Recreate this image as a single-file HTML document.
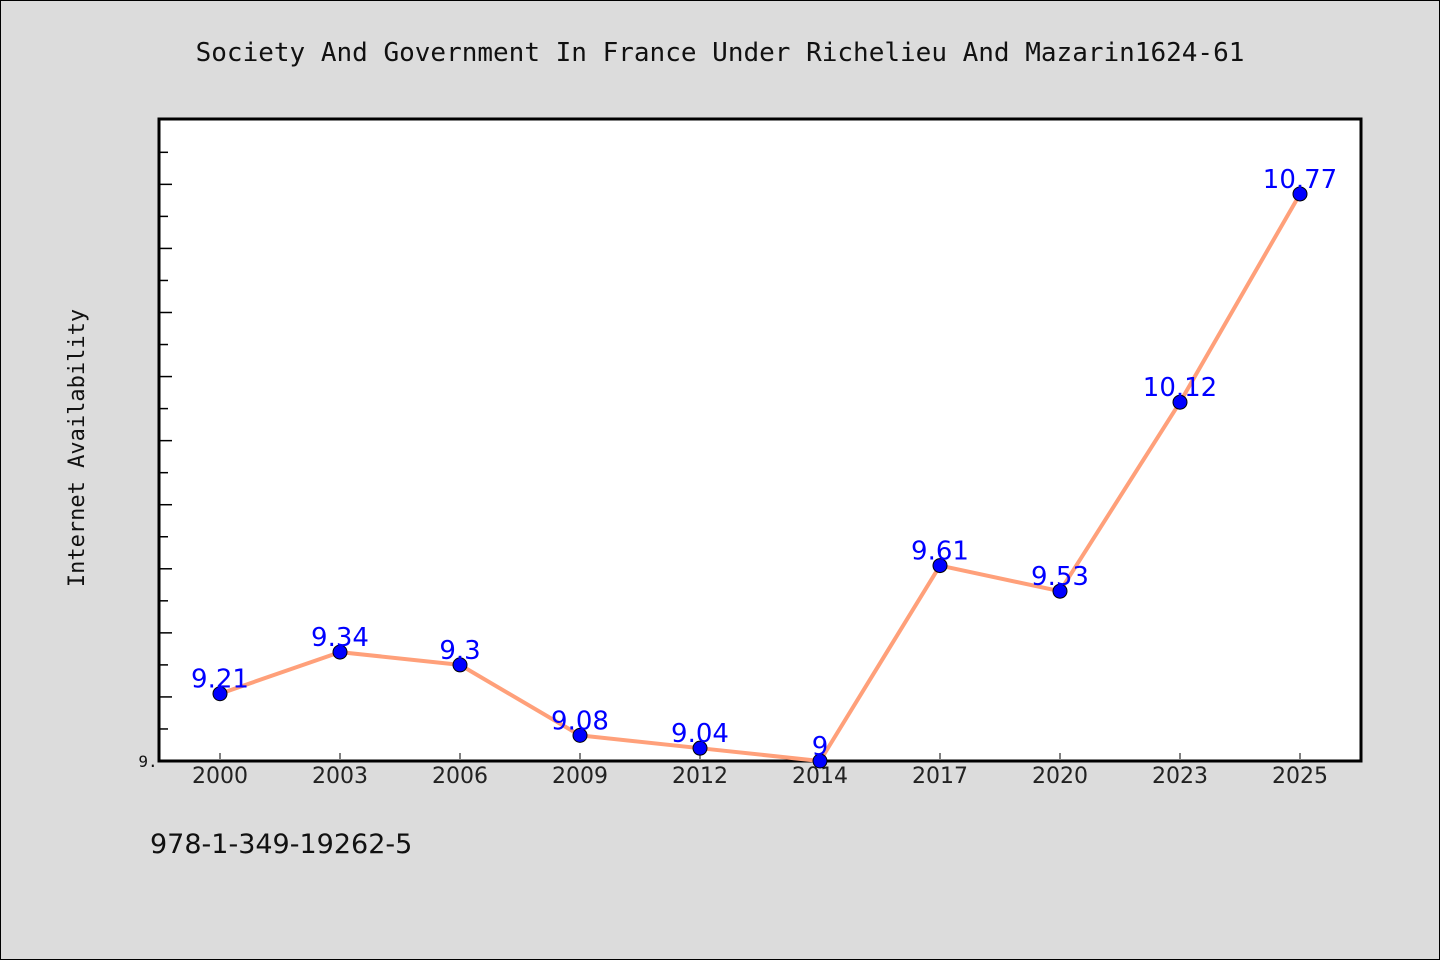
<!DOCTYPE html>
<html><head><meta charset="utf-8"><style>
body{margin:0;background:#dcdcdc;}
svg{display:block;}
text{font-family:"DejaVu Sans Mono","Liberation Mono",monospace;}
</style></head><body>
<svg width="1440" height="960" xmlns="http://www.w3.org/2000/svg">
<rect x="0.5" y="0.5" width="1439" height="959" fill="#dcdcdc" stroke="#000"/>
<text x="720" y="61" font-size="26" text-anchor="middle" fill="#111">Society And Government In France Under Richelieu And Mazarin1624-61</text>
<rect x="159" y="119" width="1202" height="642" fill="#fff" stroke="#000" stroke-width="3"/>
<text transform="translate(84,448) rotate(-90)" font-size="22" text-anchor="middle" fill="#111">Internet Availability</text>
<text x="150" y="853" font-size="27" fill="#111" font-family="DejaVu Sans, sans-serif" style="font-family:'DejaVu Sans',sans-serif">978-1-349-19262-5</text>
<g id="ticks"></g>
<g id="series"></g>
</svg>
<script>
const categories=["2000","2003","2006","2009","2012","2014","2017","2020","2023","2025"];
const values=[9.21,9.34,9.3,9.08,9.04,9,9.61,9.53,10.12,10.77];
const labels=["9.21","9.34","9.3","9.08","9.04","9","9.61","9.53","10.12","10.77"];
const yMin=9, yMax=11.004;
const NS="http://www.w3.org/2000/svg";
const px0=159,px1=1361,py0=761,py1=119;
const x=i=>220+i*120;
const y=v=>py0-(v-yMin)/(yMax-yMin)*(py0-py1);
function mk(t,a,p){const e=document.createElementNS(NS,t);for(const k in a)e.setAttribute(k,a[k]);p.appendChild(e);return e;}
const tg=document.getElementById('ticks'), sg=document.getElementById('series');
for(let k=1;k<20;k++){const v=yMin+k*0.1;const yy=y(v);
 const t=mk('line',{x1:160,x2:160+(k%2===0?12:8),y1:yy,y2:yy,stroke:'#000','stroke-width':1.5},tg);
 
 }
const yl=mk('text',{x:148,y:767,'font-size':16,'text-anchor':'middle',fill:'#111'},tg);yl.textContent="9.";


categories.forEach((c,i)=>{
 const t=mk('line',{x1:x(i),x2:x(i),y1:753,y2:759,stroke:'#000','stroke-width':1},tg);
 
 
 const l=mk('text',{x:x(i),y:783,'font-size':22,'text-anchor':'middle',fill:'#222',style:"font-family:'DejaVu Sans',sans-serif"},tg);l.textContent=c;
 
 
});
const line=mk('polyline',{points:values.map((v,i)=>x(i)+','+y(v)).join(' '),fill:'none',stroke:'#ffa07a','stroke-width':4,'stroke-linejoin':'round'},sg);


values.forEach((v,i)=>{
 const c=mk('circle',{cx:x(i),cy:y(v),r:7,fill:'#0000ff',stroke:'#000','stroke-width':1},sg);
 
 
 const t=mk('text',{x:x(i),y:y(v)-6,'font-size':26,'text-anchor':'middle',fill:'#0000ff',style:"font-family:'DejaVu Sans',sans-serif"},sg);t.textContent=labels[i];
 
 
});
</script>
</body></html>
